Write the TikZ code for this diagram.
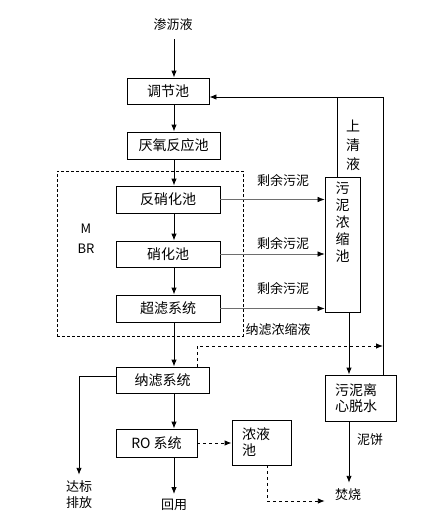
\documentclass[tikz,border=0pt]{standalone}
\usepackage{fontspec}
\setmainfont{Noto Sans CJK SC}
\usetikzlibrary{arrows,arrows.meta,positioning}
\definecolor{linegray}{RGB}{110,110,110}

\begin{document}
\begin{tikzpicture}[x=1pt, y=-1pt, >={Latex[length=7pt,width=5.5pt]},
    stage/.style={rectangle, draw, line width=0.9pt, minimum height=26pt, inner sep=0pt,
                  text centered, font=\fontsize{14}{17}\selectfont},
    tank/.style={rectangle, draw, line width=0.9pt, inner xsep=10pt, inner ysep=0pt,
                 align=left, font=\fontsize{14}{16}\selectfont},
    lbl/.style={inner sep=0pt, align=center, font=\fontsize{13}{16}\selectfont},
    flow/.style={->, line width=0.9pt},
    sludge/.style={-{Latex[length=7pt,width=5.5pt,black]}, draw=linegray, line width=0.6pt},
    conc/.style={->, line width=0.9pt, dash pattern=on 3pt off 3pt}
]
\useasboundingbox (0,0) rectangle (430,530);

% Main line
\node[lbl] (in) at (173,25) {渗沥液};
\node[stage, minimum width=82pt] (tj) at (168,91) {调节池};
\node[stage, minimum width=93pt, minimum height=27pt] (yy) at (173.5,145.5) {厌氧反应池};
\node[stage, minimum width=104pt, minimum height=27pt] (fx) at (168,199.5) {反硝化池};
\node[stage, minimum width=104pt] (xh) at (168,254) {硝化池};
\node[stage, minimum width=104pt, minimum height=27pt] (cl) at (168,308.5) {超滤系统};
\node[stage, minimum width=93pt] (nl) at (162.5,380) {纳滤系统};
\node[stage, minimum width=81pt, minimum height=28pt] (ro) at (156.5,443) {RO 系统};
\node[lbl] (reuse) at (174,505) {回用};
\node[lbl] (out) at (79,495) {达标\\排放};

% MBR
\node[draw, line width=0.7pt, dash pattern=on 3pt off 2pt, minimum width=186pt,
      minimum height=165pt] (mbr) at (150,253.5) {};
\node[lbl] (mbrm) at (86,229) {M};
\node[lbl] (mbrbr) at (86,249) {BR};

% Sludge line
\node[stage, minimum width=35pt, minimum height=135pt] (wn) at (342.5,244.5) {};
\node[lbl, font=\fontsize{14}{17}\selectfont, anchor=north] (wntext) at (342.5,182) {污\\泥\\浓\\缩\\池};
\node[tank, minimum width=71pt, minimum height=46pt, text width=51pt] (tx) at (360.5,398) {污泥离\\心脱水};
\node[tank, minimum width=59pt, minimum height=45pt, text width=39pt] (nyc) at (261.5,442.5) {浓液\\池};
\node[lbl] (burn) at (348,495) {焚烧};

% Coordinates
\coordinate (axis) at (174,0);
\coordinate (ret) at (383,97);
\coordinate (lx) at (337,0);
\coordinate (sx) at (349,0);
\coordinate (nb) at (197,346);
\coordinate (bb) at (267,501);

% Connections
\draw[flow, shorten <=8pt] (in.south -| axis) -- (tj.north -| axis);
\draw[flow] (tj.south -| axis) -- (yy.north -| axis);
\draw[flow] (yy.south -| axis) -- (fx.north -| axis);
\draw[flow] (fx.south -| axis) -- (xh.north -| axis);
\draw[flow] (xh.south -| axis) -- (cl.north -| axis);
\draw[flow] (cl.south -| axis) -- (nl.north -| axis);
\draw[flow] (nl.south -| axis) -- (ro.north -| axis);
\draw[flow, shorten >=5pt] (ro.south -| axis) -- (reuse.north -| axis);
\draw[flow, shorten >=6pt] ([yshift=4pt]nl.west) -| (out.north);

\draw[sludge] (fx.east) -- (fx.east -| wn.west);
\draw[sludge] (xh.east) -- (xh.east -| wn.west);
\draw[sludge] (cl.east) -- (cl.east -| wn.west);

\draw[flow] (tx.north -| ret) -- (ret) -- (ret -| tj.east);
\draw[line width=0.9pt] (wn.north -| lx) -- (lx |- ret);
\draw[flow] (wn.south -| sx) -- (tx.north -| sx);
\draw[flow, shorten >=6pt] (tx.south -| sx) -- (burn.north -| sx);

\draw[conc] (nl.north -| nb) -- (nb) -- (nb -| ret);
\draw[conc] (ro.east) -- (ro.east -| nyc.west);
\draw[conc, shorten >=10pt] (nyc.south -| bb) -- (bb) -- (bb -| burn.west);

% Labels
\node[lbl, font=\fontsize{14}{19}\selectfont] (sq) at (353,145) {上\\清\\液};
\node[lbl] (sy1) at (283,180) {剩余污泥};
\node[lbl] (sy2) at (283,243) {剩余污泥};
\node[lbl] (sy3) at (283,288) {剩余污泥};
\node[lbl] (nlc) at (278,330) {纳滤浓缩液};
\node[lbl] (nb2) at (370,440) {泥饼};

\end{tikzpicture}
\end{document}
